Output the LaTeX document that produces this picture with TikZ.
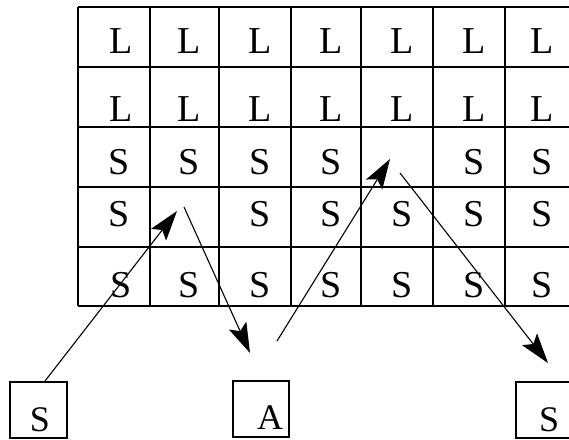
\documentclass[tikz,border=0pt]{standalone}
\usepackage{fontspec}
\setmainfont{Liberation Serif}
\usetikzlibrary{arrows.meta}
\begin{document}
\begin{tikzpicture}[x=1pt,y=-1pt,
  gridline/.style={line width=1.4pt},
  cell/.style={anchor=base,inner sep=0pt,font=\fontsize{38}{38}\selectfont},
  boxline/.style={line width=1.2pt},
  big/.style={anchor=base,inner sep=0pt,font=\fontsize{36}{36}\selectfont},
  arr/.style={line width=1.1pt,-{Stealth[length=30pt,width=19pt,inset=6pt]}}]
\useasboundingbox (0,0) rectangle (569,439);
% grid
\foreach \x in {78,150,219,291,361,433,505}
  \draw[gridline] (\x,7) -- (\x,306);
\foreach \y in {7,67,127,187,247,306}
  \draw[gridline] (78,\y) -- (580,\y);
% letters
\def\cols{121/1,189/2,260/3,331/4,402/5,474/6,542/7}
\foreach \cx/\c in \cols {
  \node[cell] (l1\c) at (\cx,53) {L};
  \node[cell] (l2\c) at (\cx,121) {L};
}
\foreach \cx/\c in {119/1,189/2,260/3,331/4,474/6,542/7}
  \node[cell] (s3\c) at (\cx,174) {S};
\foreach \cx/\c in {119/1,260/3,331/4,402/5,474/6,542/7}
  \node[cell] (s4\c) at (\cx,226) {S};
\foreach \cx/\c in \cols
  \node[cell] (s5\c) at (\cx,297) {S};
% bottom boxes
\draw[boxline] (10,382) rectangle (67,438);
\draw[boxline] (233,381) rectangle (289,437);
\draw[boxline] (516,382) rectangle (575,438);
\node[big] (bs) at (40,431) {S};
\node[big] (ba) at (270,429) {A};
\node[big] (bs2) at (549,431) {S};
% arrow coordinates
\coordinate (a1s) at (45,381);
\coordinate (a1e) at (177,211);
\coordinate (a2s) at (184,207);
\coordinate (a2e) at (250,353);
\coordinate (a3s) at (277,341);
\coordinate (a3e) at (390,159);
\coordinate (a4s) at (400,173);
\coordinate (a4e) at (548,363);
\draw[arr] (a1s) -- (a1e);
\draw[arr] (a2s) -- (a2e);
\draw[arr] (a3s) -- (a3e);
\draw[arr] (a4s) -- (a4e);
\end{tikzpicture}
\end{document}
